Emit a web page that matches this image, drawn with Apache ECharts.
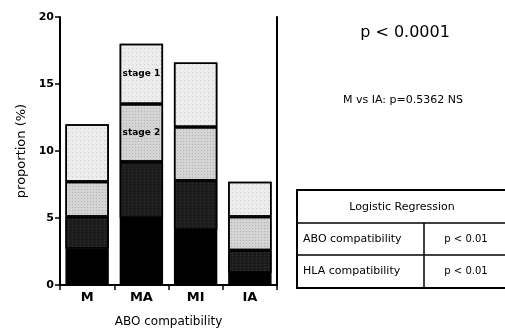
<!DOCTYPE html>
<html><head><meta charset="utf-8">
<script src="https://cdn.jsdelivr.net/npm/echarts@6/dist/echarts.min.js"></script>
<style>html,body{margin:0;padding:0;background:#fff}#c{width:505px;height:333px}</style>
</head><body><div id="c"></div>
<script>
const categories = ['M', 'MA', 'MI', 'IA'];
const stage4 = [2.7, 5.0, 4.1, 0.9];
const stage3 = [2.4, 4.2, 3.7, 1.7];
const stage2 = [2.6, 4.3, 4.0, 2.5];
const stage1 = [4.3, 4.5, 4.8, 2.6];
const yTicks = [0, 5, 10, 15, 20];
const stageLabels = { 'stage 1': 1, 'stage 2': 1 }; // index of MA
const tableRows = [['ABO compatibility', 'p < 0.01'], ['HLA compatibility', 'p < 0.01']];

const FONT = '"DejaVu Sans", sans-serif';
const chart = echarts.init(document.getElementById('c'), null, { renderer: 'canvas' });

function mk(name, data, color, decal, labelName) {
  return {
    name, type: 'bar', stack: 'all', barWidth: '80%',
    data: data.map((v, i) => {
      const d = { value: v };
      if (labelName && stageLabels[labelName] === i) {
        d.label = { show: true, position: 'inside', formatter: labelName, color: '#000',
          fontFamily: FONT, fontWeight: 'bold', fontSize: 9 };
      }
      return d;
    }),
    itemStyle: { color, borderColor: '#000', borderWidth: 1.5, decal },
    emphasis: { disabled: true }
  };
}

const option = {
  animation: false,
  backgroundColor: '#fff',
  grid: { left: 60, right: 228, top: 17, bottom: 47 },
  xAxis: {
    type: 'category', data: categories,
    axisLine: { lineStyle: { color: '#000', width: 2 } },
    axisTick: { show: true, length: 5, lineStyle: { color: '#000', width: 1.5 } },
    axisLabel: { color: '#000', fontFamily: FONT, fontWeight: 'bold', fontSize: 13, margin: 6 },
    name: 'ABO compatibility', nameLocation: 'middle', nameGap: 31,
    nameTextStyle: { color: '#000', fontFamily: FONT, fontSize: 12 }
  },
  yAxis: [{
    type: 'value', min: yTicks[0], max: yTicks[yTicks.length - 1], interval: 5,
    splitLine: { show: false },
    axisLine: { show: true, lineStyle: { color: '#000', width: 2 } },
    axisTick: { show: true, length: 5, lineStyle: { color: '#000', width: 1.5 } },
    axisLabel: { color: '#000', fontFamily: FONT, fontWeight: 'bold', fontSize: 11, margin: 6 },
    name: 'proportion (%)', nameLocation: 'middle', nameGap: 32,
    nameTextStyle: { color: '#000', fontFamily: FONT, fontSize: 13 }
  }, {
    type: 'value', position: 'right', min: 0, max: 20, interval: 5,
    splitLine: { show: false },
    axisLine: { show: true, lineStyle: { color: '#000', width: 2 } },
    axisTick: { show: false }, axisLabel: { show: false }
  }],
  series: [
    mk('stage 4', stage4, '#000', undefined),
    mk('stage 3', stage3, '#1c1c1c', { symbol: 'rect', symbolSize: 0.6, dashArrayX: [1, 3], dashArrayY: [1, 2], color: 'rgba(255,255,255,0.35)' }),
    mk('stage 2', stage2, '#d4d4d4', { symbol: 'rect', symbolSize: 0.7, dashArrayX: [1, 2], dashArrayY: [1, 2], color: 'rgba(0,0,0,0.45)' }, 'stage 2'),
    mk('stage 1', stage1, '#ececec', { symbol: 'rect', symbolSize: 0.6, dashArrayX: [1, 3], dashArrayY: [1, 3], color: 'rgba(0,0,0,0.4)' }, 'stage 1')
  ],
  graphic: [
    { type: 'text', x: 405, y: 33, style: { text: 'p < 0.0001', fill: '#000', font: '16px ' + FONT, align: 'center', verticalAlign: 'middle' } },
    { type: 'text', x: 403, y: 100, style: { text: 'M vs IA: p=0.5362 NS', fill: '#000', font: '11px ' + FONT, align: 'center', verticalAlign: 'middle' } },
    { type: 'rect', shape: { x: 297, y: 190, width: 210, height: 98 }, style: { fill: '#fff', stroke: '#000', lineWidth: 2 } },
    { type: 'line', shape: { x1: 297, y1: 223, x2: 507, y2: 223 }, style: { stroke: '#000', lineWidth: 1.5 } },
    { type: 'line', shape: { x1: 297, y1: 255, x2: 507, y2: 255 }, style: { stroke: '#000', lineWidth: 1.5 } },
    { type: 'line', shape: { x1: 424, y1: 223, x2: 424, y2: 288 }, style: { stroke: '#000', lineWidth: 1.5 } },
    { type: 'text', x: 402, y: 207, style: { text: 'Logistic Regression', fill: '#000', font: '11px ' + FONT, align: 'center', verticalAlign: 'middle' } },
    { type: 'text', x: 303, y: 239, style: { text: tableRows[0][0], fill: '#000', font: '11px ' + FONT, align: 'left', verticalAlign: 'middle' } },
    { type: 'text', x: 466, y: 239, style: { text: tableRows[0][1], fill: '#000', font: '10px ' + FONT, align: 'center', verticalAlign: 'middle' } },
    { type: 'text', x: 303, y: 271, style: { text: tableRows[1][0], fill: '#000', font: '11px ' + FONT, align: 'left', verticalAlign: 'middle' } },
    { type: 'text', x: 466, y: 271, style: { text: tableRows[1][1], fill: '#000', font: '10px ' + FONT, align: 'center', verticalAlign: 'middle' } }
  ]
};
chart.setOption(option);
</script></body></html>
